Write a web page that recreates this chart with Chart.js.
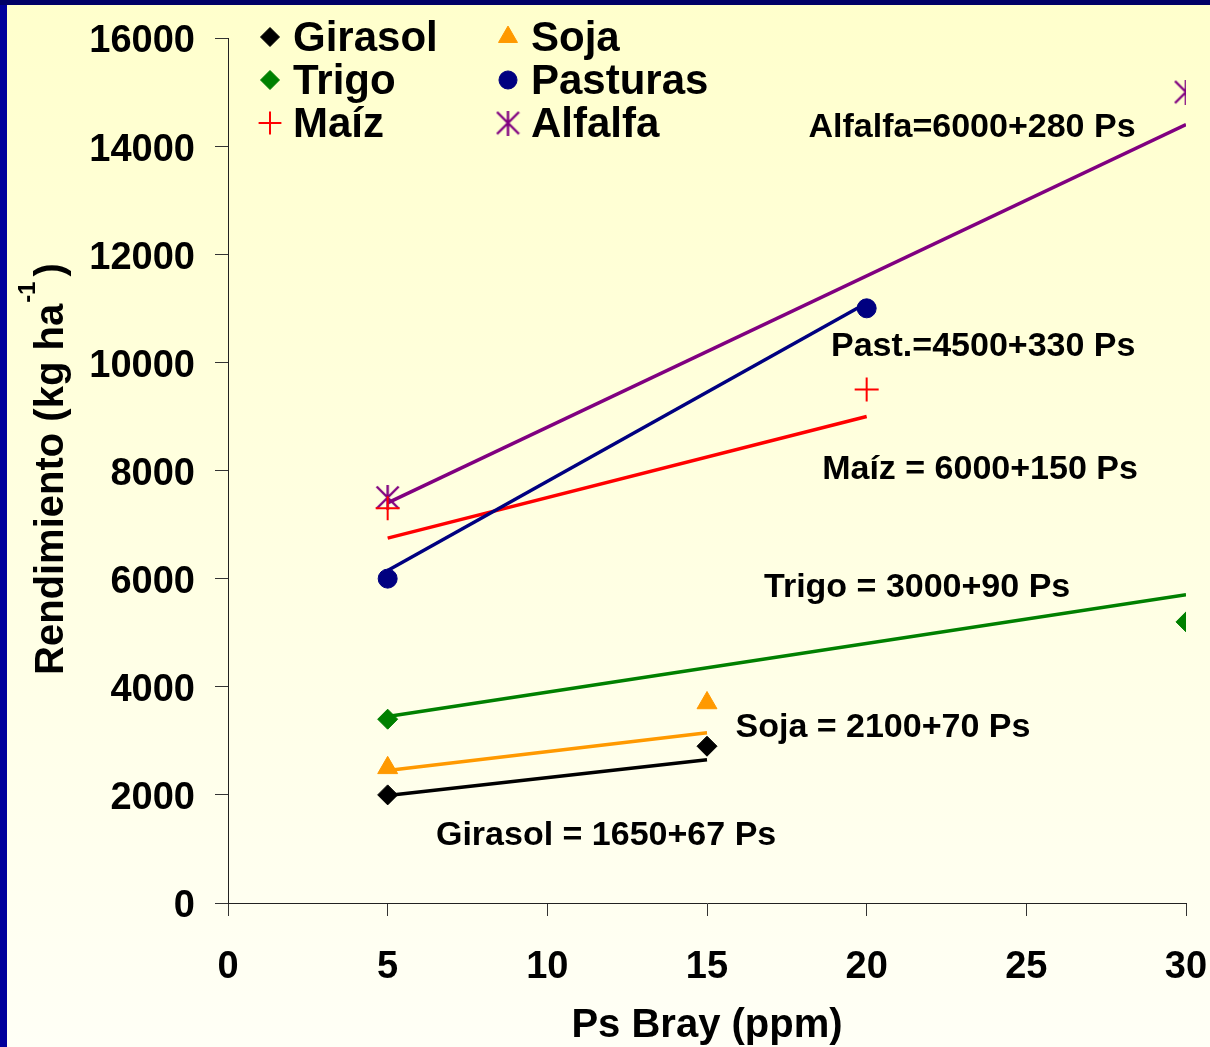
<!DOCTYPE html>
<html>
<head>
<meta charset="utf-8">
<script src="https://cdn.jsdelivr.net/npm/chart.js@4"></script>
<style>
    html, body { margin: 0; padding: 0; }
    #wrap { width: 1210px; height: 1047px; position: relative; }
</style>
</head>
<body>
<div id="wrap"><canvas id="chart"></canvas></div>
<script>
"use strict";

const FONT = "'Liberation Sans', Arial, sans-serif";

// measured points: Ps Bray (ppm) -> yield (kg/ha)
const girasolX = [5, 15];
const girasolY = [2000, 2900];
const sojaX = [5, 15];
const sojaY = [2500, 3700];
const trigoX = [5, 30];
const trigoY = [3400, 5200];
const pasturasX = [5, 20];
const pasturasY = [6000, 11000];
const maizX = [5, 20];
const maizY = [7300, 9500];
const alfalfaX = [5, 30];
const alfalfaY = [7500, 15000];

// fitted lines, end values
const girasolFit = [1990, 2650];
const sojaFit = [2450, 3150];
const trigoFit = [3450, 5700];
const pasturasFit = [6150, 11100];
const maizFit = [6750, 9000];
const alfalfaFit = [7400, 14400];

const xTicks = [0, 5, 10, 15, 20, 25, 30];
const yTicks = [0, 2000, 4000, 6000, 8000, 10000, 12000, 14000, 16000];

const equations = [
    "Alfalfa=6000+280 Ps",
    "Past.=4500+330 Ps",
    "Maíz = 6000+150 Ps",
    "Trigo = 3000+90 Ps",
    "Soja = 2100+70 Ps",
    "Girasol = 1650+67 Ps"
];
// where each equation sits, in axis units (x, y) - layout only
const equationAt = [[23.3, 14350], [23.65, 10300], [23.55, 8010], [21.58, 5830], [20.51, 3240], [11.84, 1240]];

// legend runs down columns: Girasol, Trigo, Maíz | Soja, Pasturas, Alfalfa
const legendOrder = ["Girasol", "Trigo", "Maíz", "Soja", "Pasturas", "Alfalfa"];

const starMarker = (() => {
    const c = document.createElement("canvas");
    c.width = 25; c.height = 25;
    const g = c.getContext("2d");
    g.strokeStyle = "#800080";
    g.lineWidth = 2.4;
    g.beginPath();
    g.moveTo(1.5, 1.5); g.lineTo(23.5, 23.5);
    g.moveTo(23.5, 1.5); g.lineTo(1.5, 23.5);
    g.moveTo(12.5, 0); g.lineTo(12.5, 25);
    g.stroke();
    return c;
})();

const pts = (xs, ys) => xs.map((x, i) => ({x, y: ys[i]}));

const series = [
    {label: "Girasol", x: girasolX, y: girasolY, fit: girasolFit, color: "#000000", style: "rectRot", r: 10, bw: 1},
    {label: "Soja", x: sojaX, y: sojaY, fit: sojaFit, color: "#ff9900", style: "triangle", r: 11.5, bw: 1},
    {label: "Trigo", x: trigoX, y: trigoY, fit: trigoFit, color: "#008000", style: "rectRot", r: 10, bw: 1},
    {label: "Pasturas", x: pasturasX, y: pasturasY, fit: pasturasFit, color: "#000080", style: "circle", r: 9.5, bw: 1},
    {label: "Maíz", x: maizX, y: maizY, fit: maizFit, color: "#ff0000", style: "cross", r: 12, bw: 2},
    {label: "Alfalfa", x: alfalfaX, y: alfalfaY, fit: alfalfaFit, color: "#800080", style: starMarker, r: 12, bw: 2}
];

const markerSets = series.map(s => ({
    label: s.label,
    data: pts(s.x, s.y),
    showLine: false,
    pointStyle: s.style,
    pointRadius: s.r,
    pointBorderWidth: s.bw,
    backgroundColor: s.color,
    borderColor: s.color
}));

const fitSets = series.map(s => ({
    label: s.label + " fit",
    data: pts([s.x[0], s.x[s.x.length - 1]], s.fit),
    showLine: true,
    pointRadius: 0,
    borderWidth: 3.5,
    borderColor: s.color,
    backgroundColor: s.color
}));

const background = {
    id: "background",
    beforeDraw (chart) {
        const {ctx, width, height} = chart;
        const grad = ctx.createLinearGradient(0, 0, 0, height);
        grad.addColorStop(0, "#ffffcc");
        grad.addColorStop(1, "#fffff6");
        ctx.save();
        ctx.fillStyle = grad;
        ctx.fillRect(0, 0, width, height);
        ctx.fillStyle = "#00009c";
        ctx.fillRect(0, 0, 7, height);
        ctx.fillStyle = "#000066";
        ctx.fillRect(0, 0, width, 5);
        ctx.restore();
    }
};

const extras = {
    id: "extras",
    afterDraw (chart) {
        const {ctx, chartArea, scales} = chart;
        ctx.save();
        ctx.fillStyle = "#000";

        // regression equations
        ctx.font = `bold 34px ${FONT}`;
        ctx.textAlign = "center";
        ctx.textBaseline = "middle";
        equations.forEach((t, i) => {
            ctx.fillText(t, scales.x.getPixelForValue(equationAt[i][0]), scales.y.getPixelForValue(equationAt[i][1]));
        });

        // legend, two columns of three
        ctx.textAlign = "left";
        ctx.font = `bold 42px ${FONT}`;
        legendOrder.forEach((name, i) => {
            const ds = chart.data.datasets.find(d => d.label === name),
                x = chartArea.left + 42 + Math.floor(i / 3) * 238,
                y = chartArea.top - 1 + (i % 3) * 43;
            ctx.fillStyle = ds.backgroundColor;
            ctx.strokeStyle = ds.borderColor;
            ctx.lineWidth = ds.pointBorderWidth;
            Chart.helpers.drawPoint(ctx, {pointStyle: ds.pointStyle, radius: ds.pointRadius * 0.95, borderWidth: ds.pointBorderWidth, rotation: 0}, x, y);
            ctx.fillStyle = "#000";
            ctx.fillText(name, x + 23, y + 2);
        });

        // y title with superscript
        ctx.translate(63, 675);
        ctx.rotate(-Math.PI / 2);
        ctx.textBaseline = "alphabetic";
        const main = "Rendimiento (kg ha";
        ctx.font = `bold 40px ${FONT}`;
        ctx.fillText(main, 0, 0);
        let w = ctx.measureText(main).width + 1;
        ctx.font = `bold 24px ${FONT}`;
        ctx.fillText("-1", w, -28);
        w += ctx.measureText("-1").width + 5;
        ctx.font = `bold 40px ${FONT}`;
        ctx.fillText(")", w, 0);
        ctx.restore();
    }
};

new Chart(document.getElementById("chart"), {
    type: "scatter",
    data: {datasets: [...markerSets, ...fitSets]},
    options: {
        responsive: true,
        maintainAspectRatio: false,
        animation: false,
        layout: {padding: {top: 38, right: 24, bottom: 0, left: 0}},
        plugins: {legend: {display: false}, tooltip: {enabled: false}},
        scales: {
            x: {
                type: "linear",
                min: 0,
                max: 30,
                afterBuildTicks: s => { s.ticks = xTicks.map(v => ({value: v})); },
                afterFit: s => { s.height = 144; s.paddingLeft = 0; s.paddingRight = 0; },
                grid: {drawOnChartArea: false, drawTicks: true, tickLength: 13, color: "#333"},
                border: {color: "#222", width: 1},
                ticks: {color: "#000", padding: 29, callback: v => String(v), font: {family: FONT, size: 38, weight: "bold"}},
                title: {display: true, text: "Ps Bray (ppm)", color: "#000", padding: {top: 0, bottom: 1}, font: {family: FONT, size: 40, weight: "bold", lineHeight: 1}}
            },
            y: {
                type: "linear",
                min: 0,
                max: 16000,
                afterBuildTicks: s => { s.ticks = yTicks.map(v => ({value: v})); },
                afterFit: s => { s.width = 228; s.paddingTop = 0; s.paddingBottom = 0; },
                grid: {drawOnChartArea: false, drawTicks: true, tickLength: 13, color: "#333"},
                border: {color: "#222", width: 1},
                ticks: {color: "#000", padding: 20, labelOffset: 4, callback: v => String(v), font: {family: FONT, size: 38, weight: "bold"}}
            }
        }
    },
    plugins: [background, extras]
});
</script>
</body>
</html>
